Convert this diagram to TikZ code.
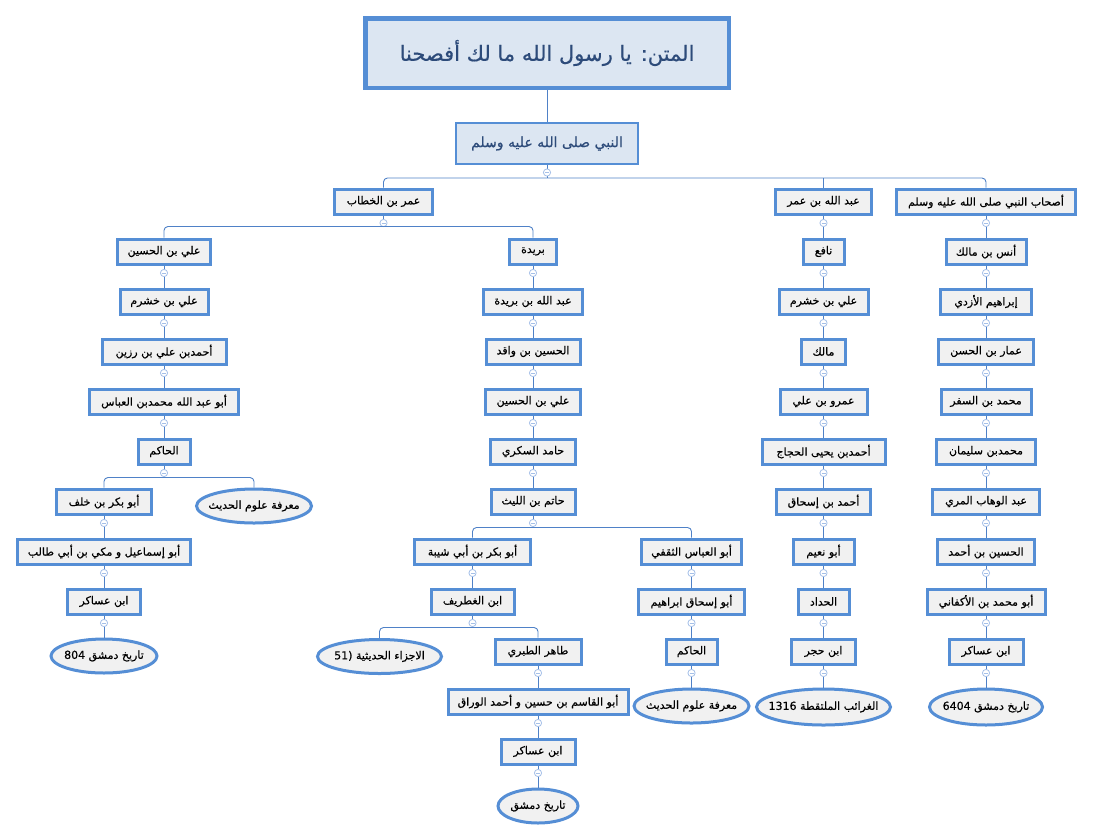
\documentclass[tikz,border=0pt]{standalone}
\usepackage{fontspec}
\usepackage{tikz}
\usetikzlibrary{positioning, shapes.geometric, decorations.markings}
\TeXXeTstate=1
\newfontfamily\arabicfont[Script=Arabic, FakeBold=0.5]{DejaVu Sans}
\definecolor{mapblue}{RGB}{85,142,213}
\definecolor{linkblue}{RGB}{79,129,199}
\definecolor{knobblue}{RGB}{165,192,232}
\definecolor{boxgray}{RGB}{241,241,241}
\definecolor{rootfill}{RGB}{220,230,242}
\definecolor{roottext}{RGB}{45,75,122}

\begin{document}
\begin{tikzpicture}[
  x=1pt, y=1pt,
  node distance=22pt,
  root/.style={draw=mapblue, fill=rootfill, inner sep=0pt,
    execute at begin node={\hbox\bgroup\color{roottext}\beginR}, execute at end node={\endR\egroup}},
  rawi/.style={draw=mapblue, line width=3pt, fill=boxgray, minimum height=25pt, inner sep=0pt,
    font=\arabicfont\fontsize{11}{13}\selectfont,
    execute at begin node={\hbox\bgroup\beginR}, execute at end node={\endR\egroup}},
  kitab/.style={ellipse, draw=mapblue, line width=3pt, fill=boxgray, minimum height=34pt,
    inner xsep=-16pt, inner ysep=0pt, font=\arabicfont\fontsize{11}{13}\selectfont,
    execute at begin node={\hbox\bgroup\beginR}, execute at end node={\endR\egroup}},
  link/.style={draw=linkblue, line width=0.9pt, rounded corners=4pt},
  knobbed/.style={postaction={decorate, decoration={markings, mark=at position 7.5pt with {
    \filldraw[draw=knobblue, fill=white, line width=0.8pt] (0,0) circle (3.6pt);
    \draw[knobblue, line width=0.8pt] (0,-2pt) -- (0,2pt);}}}}
]
  \useasboundingbox (0,0) rectangle (1094,-838);

  % Matn and the Prophet
  \node[root, line width=4.5pt, minimum width=363.5pt, minimum height=69.5pt,
    font=\arabicfont\fontsize{21}{25}\selectfont] (matn) at (547,-53) {المتن: يا رسول الله ما لك أفصحنا};
  \node[root, line width=2pt, minimum width=182pt, minimum height=41pt,
    font=\arabicfont\fontsize{14}{17}\selectfont] (nabi) at (547,-143.5) {النبي صلى الله عليه وسلم};

  % Sahaba
  \node[rawi, minimum width=98pt] (umar) at (383.5,-201.5) {عمر بن الخطاب};
  \node[rawi, minimum width=96pt] (ibnumar) at (823.5,-201.5) {عبد الله بن عمر};
  \node[rawi, minimum width=179pt] (ashab) at (986,-201.5) {أصحاب النبي صلى الله عليه وسلم};

  % Chain of Ali ibn al-Husayn
  \node[rawi, minimum width=93pt] (alihusayn) at (164,-251.5) {علي بن الحسين};
  \node[rawi, minimum width=88pt, below=of alihusayn] (alikhashram) {علي بن خشرم};
  \node[rawi, minimum width=124pt, below=of alikhashram] (ahmadrazin) {أحمدبن علي بن رزين};
  \node[rawi, minimum width=149pt, below=of ahmadrazin] (abuabdallah) {أبو عبد الله محمدبن العباس};
  \node[rawi, minimum width=52pt, below=of abuabdallah] (hakim) {الحاكم};
  \node[rawi, minimum width=95pt] (abubakrkhalaf) at (104,-501.5) {أبو بكر بن خلف};
  \node[kitab, minimum width=115pt] (marifa) at (254,-506) {معرفة علوم الحديث};
  \node[rawi, minimum width=173pt, below=of abubakrkhalaf] (abuismail) {أبو إسماعيل و مكي بن أبي طالب};
  \node[rawi, minimum width=73pt, below=of abuismail] (asakir) {ابن عساكر};
  \node[kitab, minimum width=106pt, below=of asakir] (tarikh) {تاريخ دمشق \beginL 804\endL{}};

  % Chain of Burayda
  \node[rawi, minimum width=47pt] (burayda) at (533,-251.5) {بريدة};
  \node[rawi, minimum width=99pt, below=of burayda] (abdallah) {عبد الله بن بريدة};
  \node[rawi, minimum width=94pt, below=of abdallah] (waqid) {الحسين بن واقد};
  \node[rawi, minimum width=95pt, below=of waqid] (alihusayntwo) {علي بن الحسين};
  \node[rawi, minimum width=85pt, below=of alihusayntwo] (hamid) {حامد السكري};
  \node[rawi, minimum width=84pt, below=of hamid] (hatim) {حاتم بن الليث};
  \node[rawi, minimum width=116pt] (abubakrshayba) at (472.5,-551.5) {أبو بكر بن أبي شيبة};
  \node[rawi, minimum width=100pt] (abulabbas) at (691.5,-551.5) {أبو العباس الثقفي};
  \node[rawi, minimum width=83pt, below=of abubakrshayba] (ghitrif) {ابن الغطريف};
  \node[kitab, minimum width=124pt] (ajza) at (379.5,-656.5) {الاجزاء الحديثية (51};
  \node[rawi, minimum width=86pt] (tahir) at (538,-651.5) {طاهر الطبري};
  \node[rawi, minimum width=180pt, below=of tahir] (abulqasim) {أبو القاسم بن حسين و أحمد الوراق};
  \node[rawi, minimum width=74pt, below=of abulqasim] (asakirtwo) {ابن عساكر};
  \node[kitab, minimum width=80pt, below=of asakirtwo] (tarikhtwo) {تاريخ دمشق};
  \node[rawi, minimum width=106pt, below=of abulabbas] (abuishaq) {أبو إسحاق ابراهيم};
  \node[rawi, minimum width=51pt, below=of abuishaq] (hakimtwo) {الحاكم};
  \node[kitab, minimum width=115pt, below=of hakimtwo] (marifatwo) {معرفة علوم الحديث};

  % Chain of Ibn Umar
  \node[rawi, minimum width=41pt, below=of ibnumar] (nafi) {نافع};
  \node[rawi, minimum width=89pt, below=of nafi] (alikhashramtwo) {علي بن خشرم};
  \node[rawi, minimum width=44pt, below=of alikhashramtwo] (malik) {مالك};
  \node[rawi, minimum width=87pt, below=of malik] (amr) {عمرو بن علي};
  \node[rawi, minimum width=123pt, below=of amr] (hajjaj) {أحمدبن يحيى الحجاج};
  \node[rawi, minimum width=94pt, below=of hajjaj] (ahmadishaq) {أحمد بن إسحاق};
  \node[rawi, minimum width=61pt, below=of ahmadishaq] (abunuaym) {أبو نعيم};
  \node[rawi, minimum width=51pt, below=of abunuaym] (haddad) {الحداد};
  \node[rawi, minimum width=64pt, below=of haddad] (ibnhajar) {ابن حجر};
  \node[kitab, minimum width=134pt, minimum height=36pt, below=of ibnhajar] (gharaib) {الغرائب الملتقطة \beginL 1316\endL{}};

  % Chain of Anas
  \node[rawi, minimum width=80pt, below=of ashab] (anas) {أنس بن مالك};
  \node[rawi, minimum width=91pt, below=of anas] (ibrahim) {إبراهيم الأزدي};
  \node[rawi, minimum width=95pt, below=of ibrahim] (ammar) {عمار بن الحسن};
  \node[rawi, minimum width=90pt, below=of ammar] (safar) {محمد بن السفر};
  \node[rawi, minimum width=99pt, below=of safar] (sulayman) {محمدبن سليمان};
  \node[rawi, minimum width=107pt, below=of sulayman] (abdalwahhab) {عبد الوهاب المري};
  \node[rawi, minimum width=97pt, below=of abdalwahhab] (husaynahmad) {الحسين بن أحمد};
  \node[rawi, minimum width=118pt, below=of husaynahmad] (akfani) {أبو محمد بن الأكفاني};
  \node[rawi, minimum width=74pt, below=of akfani] (asakirthree) {ابن عساكر};
  \node[kitab, minimum width=113pt, minimum height=36pt, below=of asakirthree] (tarikhthree) {تاريخ دمشق \beginL 6404\endL{}};

  % Branch points
  \coordinate (nabibus) at ([yshift=-13pt]nabi.south);
  \coordinate (umarbus) at ([yshift=-11pt]umar.south);
  \coordinate (hakimbus) at ([yshift=-12pt]hakim.south);
  \coordinate (hatimbus) at ([yshift=-12pt]hatim.south);
  \coordinate (ghitrifbus) at ([yshift=-12pt]ghitrif.south);

  % Top
  \draw[link] (matn) -- (nabi);
  \draw[link, knobbed] (nabi) -- (nabibus);
  \draw[link] (umar) |- (nabibus) -| (ashab);
  \draw[link] (ibnumar |- nabibus) -- (ibnumar);
  \draw[link, knobbed] (umar) -- (umarbus);
  \draw[link] (alihusayn) |- (umarbus) -| (burayda);

  % Ali ibn al-Husayn
  \draw[link, knobbed] (alihusayn) -- (alikhashram);
  \draw[link, knobbed] (alikhashram) -- (ahmadrazin);
  \draw[link, knobbed] (ahmadrazin) -- (abuabdallah);
  \draw[link, knobbed] (abuabdallah) -- (hakim);
  \draw[link, knobbed] (hakim) -- (hakimbus);
  \draw[link] (abubakrkhalaf) |- (hakimbus) -| (marifa);
  \draw[link, knobbed] (abubakrkhalaf) -- (abuismail);
  \draw[link, knobbed] (abuismail) -- (asakir);
  \draw[link, knobbed] (asakir) -- (tarikh);

  % Burayda
  \draw[link, knobbed] (burayda) -- (abdallah);
  \draw[link, knobbed] (abdallah) -- (waqid);
  \draw[link, knobbed] (waqid) -- (alihusayntwo);
  \draw[link, knobbed] (alihusayntwo) -- (hamid);
  \draw[link, knobbed] (hamid) -- (hatim);
  \draw[link, knobbed] (hatim) -- (hatimbus);
  \draw[link] (abubakrshayba) |- (hatimbus) -| (abulabbas);
  \draw[link, knobbed] (abubakrshayba) -- (ghitrif);
  \draw[link, knobbed] (ghitrif) -- (ghitrifbus);
  \draw[link] (ajza) |- (ghitrifbus) -| (tahir);
  \draw[link, knobbed] (tahir) -- (abulqasim);
  \draw[link, knobbed] (abulqasim) -- (asakirtwo);
  \draw[link, knobbed] (asakirtwo) -- (tarikhtwo);
  \draw[link, knobbed] (abulabbas) -- (abuishaq);
  \draw[link, knobbed] (abuishaq) -- (hakimtwo);
  \draw[link, knobbed] (hakimtwo) -- (marifatwo);

  % Ibn Umar
  \draw[link, knobbed] (ibnumar) -- (nafi);
  \draw[link, knobbed] (nafi) -- (alikhashramtwo);
  \draw[link, knobbed] (alikhashramtwo) -- (malik);
  \draw[link, knobbed] (malik) -- (amr);
  \draw[link, knobbed] (amr) -- (hajjaj);
  \draw[link, knobbed] (hajjaj) -- (ahmadishaq);
  \draw[link, knobbed] (ahmadishaq) -- (abunuaym);
  \draw[link, knobbed] (abunuaym) -- (haddad);
  \draw[link, knobbed] (haddad) -- (ibnhajar);
  \draw[link, knobbed] (ibnhajar) -- (gharaib);

  % Anas
  \draw[link, knobbed] (ashab) -- (anas);
  \draw[link, knobbed] (anas) -- (ibrahim);
  \draw[link, knobbed] (ibrahim) -- (ammar);
  \draw[link, knobbed] (ammar) -- (safar);
  \draw[link, knobbed] (safar) -- (sulayman);
  \draw[link, knobbed] (sulayman) -- (abdalwahhab);
  \draw[link, knobbed] (abdalwahhab) -- (husaynahmad);
  \draw[link, knobbed] (husaynahmad) -- (akfani);
  \draw[link, knobbed] (akfani) -- (asakirthree);
  \draw[link, knobbed] (asakirthree) -- (tarikhthree);
\end{tikzpicture}
\end{document}
